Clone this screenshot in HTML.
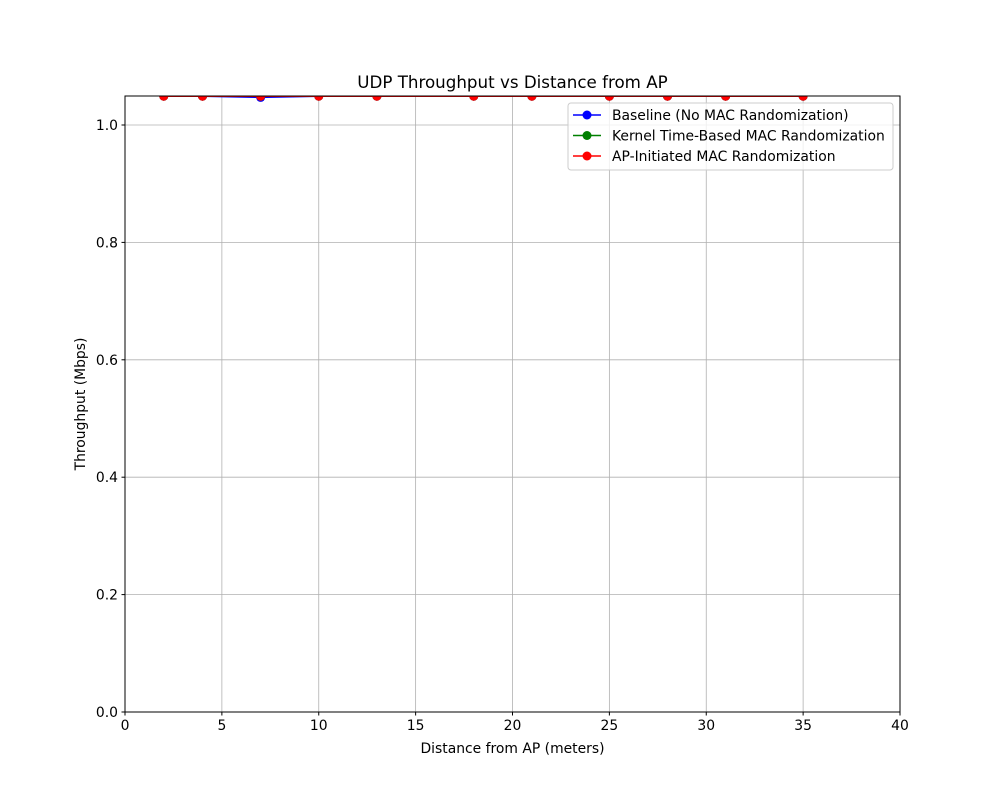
<!DOCTYPE html>
<html><head><meta charset="utf-8"><style>
body{margin:0;background:#fff;}
svg text{font-family:"DejaVu Sans","Liberation Sans",sans-serif;}
</style></head><body>
<svg id="chart" width="1000" height="800" viewBox="0 0 1000 800">
<rect width="1000" height="800" fill="#fff"/>
<g id="grid"></g>
<g id="ticks"></g>
<defs><clipPath id="clip"><rect x="125" y="96" width="775" height="616"/></clipPath></defs>
<g id="series"></g>
<rect x="125" y="96" width="775" height="616" fill="none" stroke="#000" stroke-width="1"/>
<text x="512.5" y="88" font-size="16.7" text-anchor="middle">UDP Throughput vs Distance from AP</text>
<text x="512.5" y="753" font-size="13.9" text-anchor="middle">Distance from AP (meters)</text>
<text x="85" y="404" font-size="13.9" text-anchor="middle" transform="rotate(-90 85 404)">Throughput (Mbps)</text>
<g id="legend">
<rect x="568" y="103" width="325" height="67" rx="3" fill="#fff" fill-opacity="0.8" stroke="#ccc"/>
</g>
</svg>
<script>
const distances=[2,4,7,10,13,18,21,25,28,31,35];
const baseline=[1.049,1.049,1.047,1.049,1.049,1.049,1.049,1.049,1.049,1.049,1.049];
const kernel=[1.049,1.049,1.049,1.049,1.049,1.049,1.049,1.049,1.049,1.049,1.049];
const apInit=[1.049,1.049,1.049,1.049,1.049,1.049,1.049,1.049,1.049,1.049,1.049];
const xTicks=[0,5,10,15,20,25,30,35,40];
const yTicks=[0.0,0.2,0.4,0.6,0.8,1.0];
const seriesNames=["Baseline (No MAC Randomization)","Kernel Time-Based MAC Randomization","AP-Initiated MAC Randomization"];
const NS="http://www.w3.org/2000/svg";
const X0=125,X1=900,Y0=712,Y1=96,XMAX=40,YMAX=1.0494;
const xs=v=>X0+(X1-X0)*v/XMAX;
const ys=v=>Y0-(Y0-Y1)*v/YMAX;
function mk(tag,attrs,parent){const e=document.createElementNS(NS,tag);for(const k in attrs)e.setAttribute(k,attrs[k]);parent.appendChild(e);return e;}
const grid=document.getElementById('grid'),ticks=document.getElementById('ticks');
xTicks.forEach(t=>{
  const x=xs(t);
  const g=mk('line',{x1:x,x2:x,y1:Y1,y2:Y0,stroke:'#b0b0b0','stroke-width':0.8},grid);
  
  
  mk('line',{x1:x,x2:x,y1:Y0,y2:Y0+3.5,stroke:'#000'},ticks);
  const tx=mk('text',{x:x,y:Y0+18,'font-size':13.9,'text-anchor':'middle'},ticks);
  tx.textContent=t;
  
  
});
yTicks.forEach(t=>{
  const y=ys(t);
  const g=mk('line',{x1:X0,x2:X1,y1:y,y2:y,stroke:'#b0b0b0','stroke-width':0.8},grid);
  
  
  mk('line',{x1:X0-3.5,x2:X0,y1:y,y2:y,stroke:'#000'},ticks);
  const tx=mk('text',{x:X0-7,y:y+5,'font-size':13.9,'text-anchor':'end'},ticks);
  tx.textContent=t.toFixed(1);
  
  
});
const sg=document.getElementById('series');
sg.setAttribute('clip-path','url(#clip)');
const data=[baseline,kernel,apInit],colors=['#0000ff','#008000','#ff0000'],names=['baseline-series','kernel-series','ap-initiated-series'];
data.forEach((vals,i)=>{
  const g=mk('g',{},sg);
  
  
  const pts=distances.map((d,j)=>xs(d)+','+ys(vals[j])).join(' ');
  mk('polyline',{points:pts,fill:'none',stroke:colors[i],'stroke-width':1.5},g);
  distances.forEach((d,j)=>{
    const c=mk('circle',{cx:xs(d),cy:ys(vals[j]),r:4.5,fill:colors[i]},g);
    
    
  });
});
const lg=document.getElementById('legend');
seriesNames.forEach((n,i)=>{
  const y=115+i*20.5;
  mk('line',{x1:573,x2:601,y1:y,y2:y,stroke:colors[i],'stroke-width':1.5},lg);
  mk('circle',{cx:587,cy:y,r:4.5,fill:colors[i]},lg);
  const t=mk('text',{x:612,y:y+5,'font-size':13.9},lg);
  t.textContent=n;
  
  
});
</script>
</body></html>
